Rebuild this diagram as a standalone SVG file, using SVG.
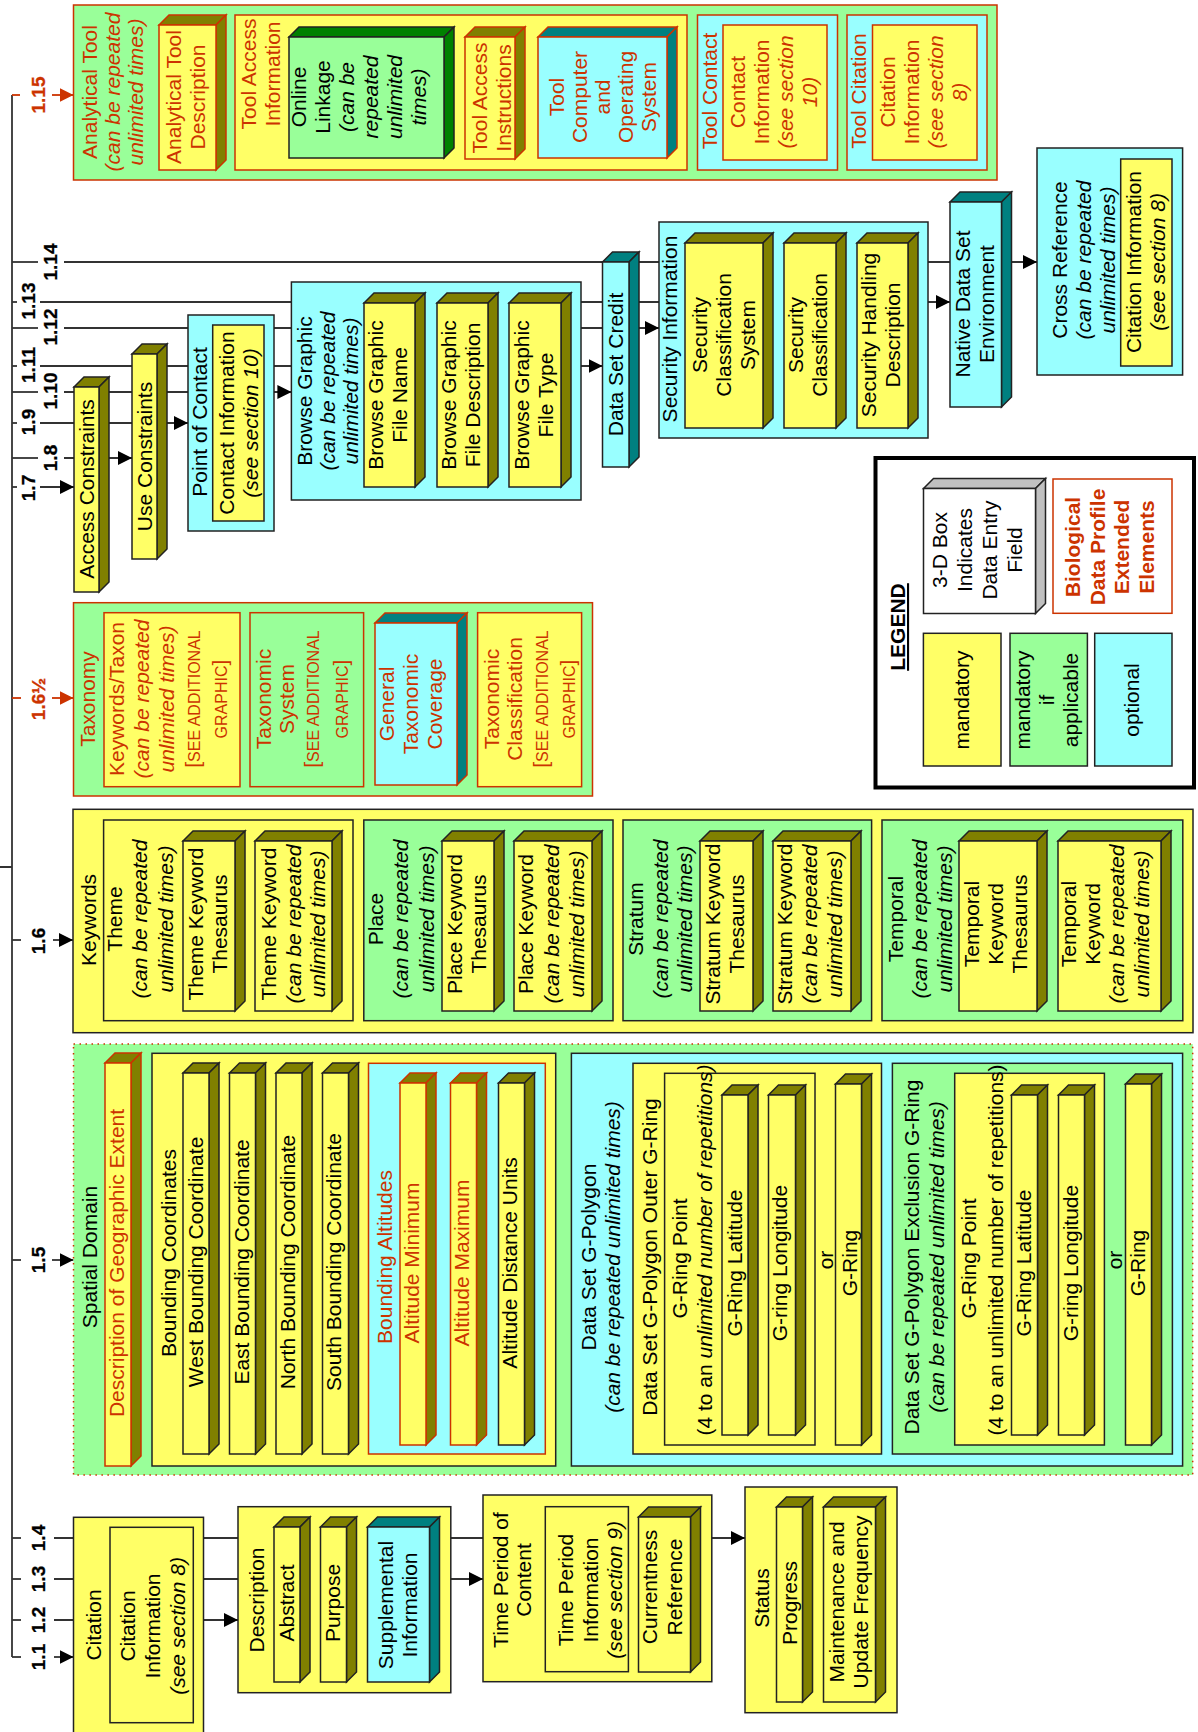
<svg xmlns="http://www.w3.org/2000/svg" width="1198" height="1732" viewBox="0 0 1198 1732">
<style>
text{font-family:"Liberation Sans",Arial,sans-serif;font-size:21px;fill:#000;text-anchor:middle}
.r{fill:#CC3300}
.i{font-style:italic}
.b{font-weight:bold}
.lb{font-size:19px;font-weight:bold;stroke:#000;stroke-width:0.3}
.lb.r{stroke:#CC3300}
.sc{font-size:16px}
.Y{fill:#FFFF66}.G{fill:#99FF99}.C{fill:#99FFFF}.W{fill:#FFFFFF}
.ol{fill:#808000}.tl{fill:#008080}.dg{fill:#008000}.gy{fill:#C0C0C0}
.k{stroke:#222;stroke-width:1.5}
.rd{stroke:#CC3300;stroke-width:1.5}
.ln{stroke:#333;stroke-width:1.8;fill:none}
.lr{stroke:#CC3300;stroke-width:1.8;fill:none}
</style>
<defs>
<marker id="ah" markerUnits="userSpaceOnUse" markerWidth="14" markerHeight="14" refX="14" refY="7" orient="auto"><path d="M0,0 L14,7 L0,14 z" fill="#000"/></marker>
<marker id="ahr" markerUnits="userSpaceOnUse" markerWidth="14" markerHeight="14" refX="14" refY="7" orient="auto"><path d="M0,0 L14,7 L0,14 z" fill="#CC3300"/></marker>
</defs>
<rect width="1198" height="1732" fill="#fff"/>

<g id="connectors">
<path class="ln" d="M12,95 V1657 M0,867 H12"/>
<path class="lr" d="M12,95 H20"/>
<path class="lr" d="M52,95 H73.5" marker-end="url(#ahr)"/>
<path class="ln" d="M12,262 H38"/><path class="ln" d="M64,262 H1037" marker-end="url(#ah)"/>
<path class="ln" d="M12,302 H17"/><path class="ln" d="M40,302 H950" marker-end="url(#ah)"/>
<path class="ln" d="M12,328 H38"/><path class="ln" d="M64,328 H659" marker-end="url(#ah)"/>
<path class="ln" d="M12,366 H17"/><path class="ln" d="M40,366 H602.5" marker-end="url(#ah)"/>
<path class="ln" d="M12,392 H38"/><path class="ln" d="M64,392 H291.4" marker-end="url(#ah)"/>
<path class="ln" d="M12,423 H17"/><path class="ln" d="M40,423 H188" marker-end="url(#ah)"/>
<path class="ln" d="M12,458 H38"/><path class="ln" d="M64,458 H132" marker-end="url(#ah)"/>
<path class="ln" d="M12,487 H17"/><path class="ln" d="M40,487 H74" marker-end="url(#ah)"/>
<path class="lr" d="M12,698 H21"/><path class="lr" d="M52,698 H73.5" marker-end="url(#ahr)"/>
<path class="ln" d="M12,940 H21"/><path class="ln" d="M53,940 H73" marker-end="url(#ah)"/>
<path class="ln" d="M12,1260 H21"/><path class="ln" d="M52,1260 H73.5" marker-end="url(#ah)"/>
<path class="ln" d="M12,1538 H21"/><path class="ln" d="M54,1538 H745" marker-end="url(#ah)"/>
<path class="ln" d="M12,1579 H21"/><path class="ln" d="M54,1579 H483" marker-end="url(#ah)"/>
<path class="ln" d="M12,1620 H21"/><path class="ln" d="M54,1620 H238" marker-end="url(#ah)"/>
<path class="ln" d="M12,1657 H21"/><path class="ln" d="M54,1657 H73.5" marker-end="url(#ah)"/>
<text class="lb r" transform="translate(45,95) rotate(-90)">1.15</text>
<text class="lb" transform="translate(56.5,262) rotate(-90)">1.14</text>
<text class="lb" transform="translate(35,301) rotate(-90)">1.13</text>
<text class="lb" transform="translate(56.5,327) rotate(-90)">1.12</text>
<text class="lb" transform="translate(35,365) rotate(-90)">1.11</text>
<text class="lb" transform="translate(56.5,391) rotate(-90)">1.10</text>
<text class="lb" transform="translate(35,422) rotate(-90)">1.9</text>
<text class="lb" transform="translate(56.5,458) rotate(-90)">1.8</text>
<text class="lb" transform="translate(35,488) rotate(-90)">1.7</text>
<text class="lb r" transform="translate(45,699) rotate(-90)">1.6½</text>
<text class="lb" transform="translate(44.5,941) rotate(-90)">1.6</text>
<text class="lb" transform="translate(45,1260) rotate(-90)">1.5</text>
<text class="lb" transform="translate(45,1538) rotate(-90)">1.4</text>
<text class="lb" transform="translate(45,1579) rotate(-90)">1.3</text>
<text class="lb" transform="translate(45,1620) rotate(-90)">1.2</text>
<text class="lb" transform="translate(45,1657) rotate(-90)">1.1</text>
</g>

<g id="analytical-tool">
<rect class="G rd" x="73.5" y="5" width="923.5" height="175"/>
<text class="r" transform="translate(97,92) rotate(-90)"><tspan x="0" y="0">Analytical Tool</tspan><tspan class="i" x="0" y="23">(can be repeated</tspan><tspan class="i" x="0" y="46">unlimited times)</tspan></text>
<g id="analytical-tool-description">
<polygon class="ol rd" points="159,25 169,15 226,15 216,25"/><polygon class="ol rd" points="216,25 226,15 226,160 216,170"/><rect class="Y rd" x="159" y="25" width="57" height="145"/>
<text class="r" transform="translate(181,97) rotate(-90)"><tspan x="0" y="0">Analytical Tool</tspan><tspan x="0" y="24">Description</tspan></text>
</g>
<g id="tool-access-information">
<rect class="Y rd" x="235" y="15" width="452" height="155"/>
<text class="r" transform="translate(256,74) rotate(-90)"><tspan x="0" y="0">Tool Access</tspan><tspan x="0" y="24">Information</tspan></text>
<g id="online-linkage">
<polygon class="dg k" points="289,37 299,27 454,27 444,37"/><polygon class="dg k" points="444,37 454,27 454,148 444,158"/><rect class="G k" x="289" y="37" width="155" height="121"/>
<text transform="translate(305.5,97) rotate(-90)"><tspan x="0" y="0">Online</tspan><tspan x="0" y="24">Linkage</tspan><tspan class="i" x="0" y="48">(can be</tspan><tspan class="i" x="0" y="72">repeated</tspan><tspan class="i" x="0" y="96">unlimited</tspan><tspan class="i" x="0" y="120">times)</tspan></text>
</g>
<g id="tool-access-instructions">
<polygon class="ol rd" points="465,37 475,27 525,27 515,37"/><polygon class="ol rd" points="515,37 525,27 525,149 515,159"/><rect class="Y rd" x="465" y="37" width="50" height="122"/>
<text class="r" transform="translate(487,98) rotate(-90)"><tspan x="0" y="0">Tool Access</tspan><tspan x="0" y="24">Instructions</tspan></text>
</g>
<g id="tool-computer">
<polygon class="tl rd" points="538,37 548,27 677,27 667,37"/><polygon class="tl rd" points="667,37 677,27 677,148 667,158"/><rect class="C rd" x="538" y="37" width="129" height="121"/>
<text class="r" transform="translate(563.5,97) rotate(-90)"><tspan x="0" y="0">Tool</tspan><tspan x="0" y="23">Computer</tspan><tspan x="0" y="46">and</tspan><tspan x="0" y="69">Operating</tspan><tspan x="0" y="92">System</tspan></text>
</g>
</g>
<g id="tool-contact">
<rect class="C rd" x="697.5" y="15" width="140" height="155"/>
<text class="r" transform="translate(717,91) rotate(-90)">Tool Contact</text>
<rect class="Y rd" x="723" y="25" width="104" height="135"/>
<text class="r" transform="translate(744.5,92) rotate(-90)"><tspan x="0" y="0">Contact</tspan><tspan x="0" y="24">Information</tspan><tspan class="i" x="0" y="48">(see section</tspan><tspan class="i" x="0" y="72">10)</tspan></text>
</g>
<g id="tool-citation">
<rect class="C rd" x="847" y="15" width="140" height="155"/>
<text class="r" transform="translate(866,91) rotate(-90)">Tool Citation</text>
<rect class="Y rd" x="872.5" y="25" width="104.5" height="135"/>
<text class="r" transform="translate(895,92) rotate(-90)"><tspan x="0" y="0">Citation</tspan><tspan x="0" y="24">Information</tspan><tspan class="i" x="0" y="48">(see section</tspan><tspan class="i" x="0" y="72">8)</tspan></text>
</g>
</g>

<g id="cross-reference">
<rect class="C k" x="1037" y="148" width="145.6" height="227"/>
<text transform="translate(1067,260) rotate(-90)"><tspan x="0" y="0">Cross Reference</tspan><tspan class="i" x="0" y="24">(can be repeated</tspan><tspan class="i" x="0" y="48">unlimited times)</tspan></text>
<rect class="Y k" x="1120.7" y="159" width="51.3" height="207"/>
<text transform="translate(1141,262) rotate(-90)"><tspan x="0" y="0">Citation Information</tspan><tspan class="i" x="0" y="24">(see section 8)</tspan></text>
</g>

<g id="native-data-set">
<polygon class="tl k" points="950,202 960,192 1011.5,192 1001.5,202"/><polygon class="tl k" points="1001.5,202 1011.5,192 1011.5,397 1001.5,407"/><rect class="C k" x="950" y="202" width="51.5" height="205"/>
<text transform="translate(970,304) rotate(-90)"><tspan x="0" y="0">Native Data Set</tspan><tspan x="0" y="24">Environment</tspan></text>
</g>

<g id="security-information">
<rect class="C k" x="659" y="222" width="269" height="216"/>
<text transform="translate(677,329) rotate(-90)">Security Information</text>
<polygon class="ol k" points="685,243 695,233 773,233 763,243"/><polygon class="ol k" points="763,243 773,233 773,418 763,428"/><rect class="Y k" x="685" y="243" width="78" height="185"/>
<text transform="translate(707,335) rotate(-90)"><tspan x="0" y="0">Security</tspan><tspan x="0" y="24">Classification</tspan><tspan x="0" y="48">System</tspan></text>
<polygon class="ol k" points="784,243 794,233 846,233 836,243"/><polygon class="ol k" points="836,243 846,233 846,418 836,428"/><rect class="Y k" x="784" y="243" width="52" height="185"/>
<text transform="translate(803,335) rotate(-90)"><tspan x="0" y="0">Security</tspan><tspan x="0" y="24">Classification</tspan></text>
<polygon class="ol k" points="857,243 867,233 918,233 908,243"/><polygon class="ol k" points="908,243 918,233 918,418 908,428"/><rect class="Y k" x="857" y="243" width="51" height="185"/>
<text transform="translate(876,335) rotate(-90)"><tspan x="0" y="0">Security Handling</tspan><tspan x="0" y="24">Description</tspan></text>
</g>

<g id="data-set-credit">
<polygon class="tl k" points="602.5,262 612.5,252 639,252 629,262"/><polygon class="tl k" points="629,262 639,252 639,457 629,467"/><rect class="C k" x="602.5" y="262" width="26.5" height="205"/>
<text transform="translate(623,364.5) rotate(-90)">Data Set Credit</text>
</g>

<g id="browse-graphic">
<rect class="C k" x="291.4" y="282" width="289.6" height="218"/>
<text transform="translate(311.5,391) rotate(-90)"><tspan x="0" y="0">Browse Graphic</tspan><tspan class="i" x="0" y="23">(can be repeated</tspan><tspan class="i" x="0" y="46">unlimited times)</tspan></text>
<polygon class="ol k" points="364,303 374,293 425,293 415,303"/><polygon class="ol k" points="415,303 425,293 425,477 415,487"/><rect class="Y k" x="364" y="303" width="51" height="184"/>
<text transform="translate(382.5,395) rotate(-90)"><tspan x="0" y="0">Browse Graphic</tspan><tspan x="0" y="24">File Name</tspan></text>
<polygon class="ol k" points="437,303 447,293 498,293 488,303"/><polygon class="ol k" points="488,303 498,293 498,477 488,487"/><rect class="Y k" x="437" y="303" width="51" height="184"/>
<text transform="translate(455.6,395) rotate(-90)"><tspan x="0" y="0">Browse Graphic</tspan><tspan x="0" y="24">File Description</tspan></text>
<polygon class="ol k" points="509,303 519,293 571,293 561,303"/><polygon class="ol k" points="561,303 571,293 571,477 561,487"/><rect class="Y k" x="509" y="303" width="52" height="184"/>
<text transform="translate(528.8,395) rotate(-90)"><tspan x="0" y="0">Browse Graphic</tspan><tspan x="0" y="24">File Type</tspan></text>
</g>

<g id="point-of-contact">
<rect class="C k" x="188" y="315" width="86" height="216"/>
<text transform="translate(207,422) rotate(-90)">Point of Contact</text>
<rect class="Y k" x="212.7" y="325" width="51.3" height="196"/>
<text transform="translate(234,423) rotate(-90)"><tspan x="0" y="0">Contact Information</tspan><tspan class="i" x="0" y="24">(see section 10)</tspan></text>
</g>

<g id="use-constraints">
<polygon class="ol k" points="132,354 142,344 167,344 157,354"/><polygon class="ol k" points="157,354 167,344 167,549 157,559"/><rect class="Y k" x="132" y="354" width="25" height="205"/>
<text transform="translate(151.5,456.5) rotate(-90)">Use Constraints</text>
</g>

<g id="access-constraints">
<polygon class="ol k" points="74,387 84,377 109,377 99,387"/><polygon class="ol k" points="99,387 109,377 109,582 99,592"/><rect class="Y k" x="74" y="387" width="25" height="205"/>
<text transform="translate(94,489) rotate(-90)">Access Constraints</text>
</g>

<g id="legend">
<rect class="W" x="875.5" y="458" width="318.5" height="329.5" stroke="#000" stroke-width="4"/>
<text class="b" text-decoration="underline" transform="translate(905,627) rotate(-90)">LEGEND</text>
<polygon class="gy k" points="923.5,488.5 933.5,478.5 1045.5,478.5 1035.5,488.5"/><polygon class="gy k" points="1035.5,488.5 1045.5,478.5 1045.5,603.5 1035.5,613.5"/><rect class="W k" x="923.5" y="488.5" width="112" height="125"/>
<text transform="translate(946.5,550) rotate(-90)"><tspan x="0" y="0">3-D Box</tspan><tspan x="0" y="25">Indicates</tspan><tspan x="0" y="50">Data Entry</tspan><tspan x="0" y="75">Field</tspan></text>
<rect class="W rd" x="1053" y="479" width="119" height="134.3"/>
<text class="r b" transform="translate(1080,547) rotate(-90)"><tspan x="0" y="0">Biological</tspan><tspan x="0" y="24.7">Data Profile</tspan><tspan x="0" y="49.4">Extended</tspan><tspan x="0" y="74">Elements</tspan></text>
<rect class="Y k" x="923.4" y="633.3" width="77.6" height="132.7"/>
<text transform="translate(969,700) rotate(-90)">mandatory</text>
<rect class="G k" x="1010" y="633.3" width="77.4" height="132.7"/>
<text transform="translate(1030,700) rotate(-90)"><tspan x="0" y="0">mandatory</tspan><tspan x="0" y="24">if</tspan><tspan x="0" y="48">applicable</tspan></text>
<rect class="C k" x="1094.7" y="633.3" width="77.3" height="132.7"/>
<text transform="translate(1139,700) rotate(-90)">optional</text>
</g>

<g id="taxonomy">
<rect class="G rd" x="73.5" y="602.7" width="519" height="193.3"/>
<text class="r" transform="translate(95,699) rotate(-90)">Taxonomy</text>
<rect class="Y rd" x="104" y="612.7" width="136" height="174"/>
<text class="r" transform="translate(123.7,699) rotate(-90)"><tspan x="0" y="0">Keywords/Taxon</tspan><tspan class="i" x="0" y="25">(can be repeated</tspan><tspan class="i" x="0" y="50">unlimited times)</tspan><tspan x="0" y="76">[<tspan class="sc">SEE ADDITIONAL</tspan></tspan><tspan x="0" y="103"><tspan class="sc">GRAPHIC</tspan>]</tspan></text>
<rect class="G rd" x="250" y="612.7" width="113.6" height="174"/>
<text class="r" transform="translate(271,699) rotate(-90)"><tspan x="0" y="0">Taxonomic</tspan><tspan x="0" y="23">System</tspan><tspan x="0" y="48">[<tspan class="sc">SEE ADDITIONAL</tspan></tspan><tspan x="0" y="76.6"><tspan class="sc">GRAPHIC</tspan>]</tspan></text>
<polygon class="tl rd" points="375,623 385,613 467,613 457,623"/><polygon class="tl rd" points="457,623 467,613 467,775 457,785"/><rect class="C rd" x="375" y="623" width="82" height="162"/>
<text class="r" transform="translate(394,704) rotate(-90)"><tspan x="0" y="0">General</tspan><tspan x="0" y="24">Taxonomic</tspan><tspan x="0" y="48">Coverage</tspan></text>
<rect class="Y rd" x="477.6" y="612.7" width="104" height="174"/>
<text class="r" transform="translate(498.8,699) rotate(-90)"><tspan x="0" y="0">Taxonomic</tspan><tspan x="0" y="23">Classification</tspan><tspan x="0" y="49.7">[<tspan class="sc">SEE ADDITIONAL</tspan></tspan><tspan x="0" y="76.5"><tspan class="sc">GRAPHIC</tspan>]</tspan></text>
</g>

<g id="keywords">
<rect class="Y k" x="73" y="809.3" width="1120" height="223.4"/>
<text transform="translate(96,920) rotate(-90)">Keywords</text>
<rect class="Y k" x="103.6" y="820" width="249.4" height="200.7"/>
<text transform="translate(121.7,919) rotate(-90)"><tspan x="0" y="0">Theme</tspan><tspan class="i" x="0" y="25.7">(can be repeated</tspan><tspan class="i" x="0" y="51.3">unlimited times)</tspan></text>
<polygon class="ol k" points="183,841 193,831 245,831 235,841"/><polygon class="ol k" points="235,841 245,831 245,1001 235,1011"/><rect class="Y k" x="183" y="841" width="52" height="170"/>
<text transform="translate(202.7,924) rotate(-90)"><tspan x="0" y="0">Theme Keyword</tspan><tspan x="0" y="24">Thesaurus</tspan></text>
<polygon class="ol k" points="255,841 265,831 342,831 332,841"/><polygon class="ol k" points="332,841 342,831 342,1001 332,1011"/><rect class="Y k" x="255" y="841" width="77" height="170"/>
<text transform="translate(276,924) rotate(-90)"><tspan x="0" y="0">Theme Keyword</tspan><tspan class="i" x="0" y="24.5">(can be repeated</tspan><tspan class="i" x="0" y="49">unlimited times)</tspan></text>
<rect class="G k" x="363.8" y="820" width="249.2" height="200.7"/>
<text transform="translate(382.6,919) rotate(-90)"><tspan x="0" y="0">Place</tspan><tspan class="i" x="0" y="25.7">(can be repeated</tspan><tspan class="i" x="0" y="51.3">unlimited times)</tspan></text>
<polygon class="ol k" points="442,841 452,831 504,831 494,841"/><polygon class="ol k" points="494,841 504,831 504,1001 494,1011"/><rect class="Y k" x="442" y="841" width="52" height="170"/>
<text transform="translate(461.7,924) rotate(-90)"><tspan x="0" y="0">Place Keyword</tspan><tspan x="0" y="24">Thesaurus</tspan></text>
<polygon class="ol k" points="514,841 524,831 602,831 592,841"/><polygon class="ol k" points="592,841 602,831 602,1001 592,1011"/><rect class="Y k" x="514" y="841" width="78" height="170"/>
<text transform="translate(533,924) rotate(-90)"><tspan x="0" y="0">Place Keyword</tspan><tspan class="i" x="0" y="25.5">(can be repeated</tspan><tspan class="i" x="0" y="51">unlimited times)</tspan></text>
<rect class="G k" x="623" y="820" width="248.6" height="200.7"/>
<text transform="translate(643,919) rotate(-90)"><tspan x="0" y="0">Stratum</tspan><tspan class="i" x="0" y="24.5">(can be repeated</tspan><tspan class="i" x="0" y="49">unlimited times)</tspan></text>
<polygon class="ol k" points="700,841 710,831 763,831 753,841"/><polygon class="ol k" points="753,841 763,831 763,1001 753,1011"/><rect class="Y k" x="700" y="841" width="53" height="170"/>
<text transform="translate(719.5,924) rotate(-90)"><tspan x="0" y="0">Stratum Keyword</tspan><tspan x="0" y="24.5">Thesaurus</tspan></text>
<polygon class="ol k" points="773,841 783,831 861,831 851,841"/><polygon class="ol k" points="851,841 861,831 861,1001 851,1011"/><rect class="Y k" x="773" y="841" width="78" height="170"/>
<text transform="translate(792,924) rotate(-90)"><tspan x="0" y="0">Stratum Keyword</tspan><tspan class="i" x="0" y="24.8">(can be repeated</tspan><tspan class="i" x="0" y="49.6">unlimited times)</tspan></text>
<rect class="G k" x="882" y="820" width="300.8" height="200.7"/>
<text transform="translate(902.6,919) rotate(-90)"><tspan x="0" y="0">Temporal</tspan><tspan class="i" x="0" y="24.7">(can be repeated</tspan><tspan class="i" x="0" y="49.4">unlimited times)</tspan></text>
<polygon class="ol k" points="959,841 969,831 1047,831 1037,841"/><polygon class="ol k" points="1037,841 1047,831 1047,1001 1037,1011"/><rect class="Y k" x="959" y="841" width="78" height="170"/>
<text transform="translate(979,924) rotate(-90)"><tspan x="0" y="0">Temporal</tspan><tspan x="0" y="23.8">Keyword</tspan><tspan x="0" y="47.6">Thesaurus</tspan></text>
<polygon class="ol k" points="1058,841 1068,831 1171,831 1161,841"/><polygon class="ol k" points="1161,841 1171,831 1171,1001 1161,1011"/><rect class="Y k" x="1058" y="841" width="103" height="170"/>
<text transform="translate(1076,924) rotate(-90)"><tspan x="0" y="0">Temporal</tspan><tspan x="0" y="24.2">Keyword</tspan><tspan class="i" x="0" y="48.4">(can be repeated</tspan><tspan class="i" x="0" y="72.6">unlimited times)</tspan></text>
</g>

<g id="spatial-domain">
<rect class="G" x="73.5" y="1044" width="1119.2" height="431" stroke="#CC3300" stroke-width="1.5" stroke-dasharray="1.5 4.5"/>
<text transform="translate(97,1257) rotate(-90)">Spatial Domain</text>
<polygon class="ol rd" points="105,1063 115,1053 141,1053 131,1063"/><polygon class="ol rd" points="131,1063 141,1053 141,1456 131,1466"/><rect class="Y rd" x="105" y="1063" width="26" height="403"/>
<text class="r" transform="translate(124,1263) rotate(-90)">Description of Geographic Extent</text>
<g id="bounding-coordinates">
<rect class="Y k" x="152" y="1053.3" width="403.7" height="412.7"/>
<text transform="translate(175.5,1253) rotate(-90)">Bounding Coordinates</text>
<polygon class="ol k" points="183,1073 193,1063 219,1063 209,1073"/><polygon class="ol k" points="209,1073 219,1063 219,1444 209,1454"/><rect class="Y k" x="183" y="1073" width="26" height="381"/>
<text transform="translate(202.5,1262) rotate(-90)">West Bounding Coordinate</text>
<polygon class="ol k" points="229.5,1073 239.5,1063 265.5,1063 255.5,1073"/><polygon class="ol k" points="255.5,1073 265.5,1063 265.5,1444 255.5,1454"/><rect class="Y k" x="229.5" y="1073" width="26" height="381"/>
<text transform="translate(248.5,1262) rotate(-90)">East Bounding Coordinate</text>
<polygon class="ol k" points="276,1073 286,1063 312,1063 302,1073"/><polygon class="ol k" points="302,1073 312,1063 312,1444 302,1454"/><rect class="Y k" x="276" y="1073" width="26" height="381"/>
<text transform="translate(295,1262) rotate(-90)">North Bounding Coordinate</text>
<polygon class="ol k" points="322.5,1073 332.5,1063 358.5,1063 348.5,1073"/><polygon class="ol k" points="348.5,1073 358.5,1063 358.5,1444 348.5,1454"/><rect class="Y k" x="322.5" y="1073" width="26" height="381"/>
<text transform="translate(341,1262) rotate(-90)">South Bounding Coordinate</text>
<rect class="C rd" x="368.5" y="1063.3" width="176.8" height="390.7"/>
<text class="r" transform="translate(392,1257) rotate(-90)">Bounding Altitudes</text>
<polygon class="ol rd" points="400,1083 410,1073 436,1073 426,1083"/><polygon class="ol rd" points="426,1083 436,1073 436,1435 426,1445"/><rect class="Y rd" x="400" y="1083" width="26" height="362"/>
<text class="r" transform="translate(419,1263) rotate(-90)">Altitude Minimum</text>
<polygon class="ol rd" points="450.5,1083 460.5,1073 486.5,1073 476.5,1083"/><polygon class="ol rd" points="476.5,1083 486.5,1073 486.5,1435 476.5,1445"/><rect class="Y rd" x="450.5" y="1083" width="26" height="362"/>
<text class="r" transform="translate(468.5,1263) rotate(-90)">Altitude Maximum</text>
<polygon class="ol k" points="498.5,1083 508.5,1073 534.5,1073 524.5,1083"/><polygon class="ol k" points="524.5,1083 534.5,1073 534.5,1435 524.5,1445"/><rect class="Y k" x="498.5" y="1083" width="26" height="362"/>
<text transform="translate(517,1263) rotate(-90)">Altitude Distance Units</text>
</g>
<g id="g-polygon">
<rect class="C k" x="571.4" y="1053.3" width="611.2" height="412.7"/>
<text transform="translate(595.5,1257) rotate(-90)"><tspan x="0" y="0">Data Set G-Polygon</tspan><tspan class="i" x="0" y="24">(can be repeated unlimited times)</tspan></text>
<rect class="Y k" x="633" y="1063.3" width="248.5" height="390.7"/>
<text transform="translate(656.5,1257) rotate(-90)">Data Set G-Polygon Outer G-Ring</text>
<rect class="Y k" x="664.6" y="1073.3" width="150.4" height="371.7"/>
<text transform="translate(687,1258.5) rotate(-90)">G-Ring Point</text>
<text transform="translate(711.5,1250) rotate(-90)">(4 to an <tspan class="i">unlimited number of repetitions)</tspan></text>
<polygon class="ol k" points="722,1095 732,1085 758,1085 748,1095"/><polygon class="ol k" points="748,1095 758,1085 758,1425 748,1435"/><rect class="Y k" x="722" y="1095" width="26" height="340"/>
<text transform="translate(742,1263) rotate(-90)">G-Ring Latitude</text>
<polygon class="ol k" points="768.5,1095 778.5,1085 805.5,1085 795.5,1095"/><polygon class="ol k" points="795.5,1095 805.5,1085 805.5,1425 795.5,1435"/><rect class="Y k" x="768.5" y="1095" width="27" height="340"/>
<text transform="translate(787,1263) rotate(-90)">G-ring Longitude</text>
<text transform="translate(833,1260) rotate(-90)">or</text>
<polygon class="ol k" points="835.5,1084 845.5,1074 871.5,1074 861.5,1084"/><polygon class="ol k" points="861.5,1084 871.5,1074 871.5,1435 861.5,1445"/><rect class="Y k" x="835.5" y="1084" width="26" height="361"/>
<text transform="translate(856.5,1263) rotate(-90)">G-Ring</text>
<rect class="G k" x="892.4" y="1063.3" width="280" height="390.7"/>
<text transform="translate(919,1257) rotate(-90)"><tspan x="0" y="0">Data Set G-Polygon Exclusion G-Ring</tspan><tspan class="i" x="0" y="24.5">(can be repeated unlimited times)</tspan></text>
<rect class="Y k" x="954.7" y="1073.3" width="149.7" height="371.7"/>
<text transform="translate(976,1258.5) rotate(-90)">G-Ring Point</text>
<text transform="translate(1002.5,1250) rotate(-90)">(4 to an unlimited number of repetitions)</text>
<polygon class="ol k" points="1011.5,1095 1021.5,1085 1047.5,1085 1037.5,1095"/><polygon class="ol k" points="1037.5,1095 1047.5,1085 1047.5,1425 1037.5,1435"/><rect class="Y k" x="1011.5" y="1095" width="26" height="340"/>
<text transform="translate(1031,1263) rotate(-90)">G-Ring Latitude</text>
<polygon class="ol k" points="1058.5,1095 1068.5,1085 1094.5,1085 1084.5,1095"/><polygon class="ol k" points="1084.5,1095 1094.5,1085 1094.5,1425 1084.5,1435"/><rect class="Y k" x="1058.5" y="1095" width="26" height="340"/>
<text transform="translate(1077.7,1263) rotate(-90)">G-ring Longitude</text>
<text transform="translate(1122,1260) rotate(-90)">or</text>
<polygon class="ol k" points="1125.5,1084 1135.5,1074 1161.5,1074 1151.5,1084"/><polygon class="ol k" points="1151.5,1084 1161.5,1074 1161.5,1435 1151.5,1445"/><rect class="Y k" x="1125.5" y="1084" width="26" height="361"/>
<text transform="translate(1145,1263) rotate(-90)">G-Ring</text>
</g>
</g>

<g id="citation">
<rect class="Y k" x="73.5" y="1517.3" width="130" height="230"/>
<text transform="translate(101,1625) rotate(-90)">Citation</text>
<rect class="Y k" x="110" y="1527.3" width="83.3" height="195.4"/>
<text transform="translate(135,1626) rotate(-90)"><tspan x="0" y="0">Citation</tspan><tspan x="0" y="25">Information</tspan><tspan class="i" x="0" y="50">(see section 8)</tspan></text>
</g>

<g id="description">
<rect class="Y k" x="238" y="1506.7" width="212.8" height="186"/>
<text transform="translate(263.5,1600) rotate(-90)">Description</text>
<polygon class="ol k" points="274,1527 284,1517 310,1517 300,1527"/><polygon class="ol k" points="300,1527 310,1517 310,1672 300,1682"/><rect class="Y k" x="274" y="1527" width="26" height="155"/>
<text transform="translate(293.5,1603) rotate(-90)">Abstract</text>
<polygon class="ol k" points="320.5,1527 330.5,1517 356.5,1517 346.5,1527"/><polygon class="ol k" points="346.5,1527 356.5,1517 356.5,1672 346.5,1682"/><rect class="Y k" x="320.5" y="1527" width="26" height="155"/>
<text transform="translate(340,1603) rotate(-90)">Purpose</text>
<polygon class="tl k" points="367.5,1527 377.5,1517 439.5,1517 429.5,1527"/><polygon class="tl k" points="429.5,1527 439.5,1517 439.5,1672 429.5,1682"/><rect class="C k" x="367.5" y="1527" width="62" height="155"/>
<text transform="translate(393.4,1605) rotate(-90)"><tspan x="0" y="0">Supplemental</tspan><tspan x="0" y="24">Information</tspan></text>
</g>

<g id="time-period">
<rect class="Y k" x="483" y="1495" width="228.8" height="186.7"/>
<text transform="translate(508.3,1580) rotate(-90)"><tspan x="0" y="0">Time Period of</tspan><tspan x="0" y="23">Content</tspan></text>
<rect class="Y k" x="545.3" y="1506.7" width="83.1" height="165"/>
<text transform="translate(573,1590) rotate(-90)"><tspan x="0" y="0">Time Period</tspan><tspan x="0" y="24.5">Information</tspan><tspan class="i" x="0" y="49">(see section 9)</tspan></text>
<polygon class="ol k" points="638.5,1517 648.5,1507 700.5,1507 690.5,1517"/><polygon class="ol k" points="690.5,1517 700.5,1507 700.5,1662 690.5,1672"/><rect class="Y k" x="638.5" y="1517" width="52" height="155"/>
<text transform="translate(657.3,1587) rotate(-90)"><tspan x="0" y="0">Currentness</tspan><tspan x="0" y="24.4">Reference</tspan></text>
</g>

<g id="status">
<rect class="Y k" x="745" y="1487" width="152" height="225.7"/>
<text transform="translate(768.5,1598) rotate(-90)">Status</text>
<polygon class="ol k" points="776.5,1507 786.5,1497 812.5,1497 802.5,1507"/><polygon class="ol k" points="802.5,1507 812.5,1497 812.5,1692 802.5,1702"/><rect class="Y k" x="776.5" y="1507" width="26" height="195"/>
<text transform="translate(797,1603) rotate(-90)">Progress</text>
<polygon class="ol k" points="823.5,1507 833.5,1497 885.5,1497 875.5,1507"/><polygon class="ol k" points="875.5,1507 885.5,1497 885.5,1692 875.5,1702"/><rect class="Y k" x="823.5" y="1507" width="52" height="195"/>
<text transform="translate(843.7,1602) rotate(-90)"><tspan x="0" y="0">Maintenance and</tspan><tspan x="0" y="24.3">Update Frequency</tspan></text>
</g>
</svg>
